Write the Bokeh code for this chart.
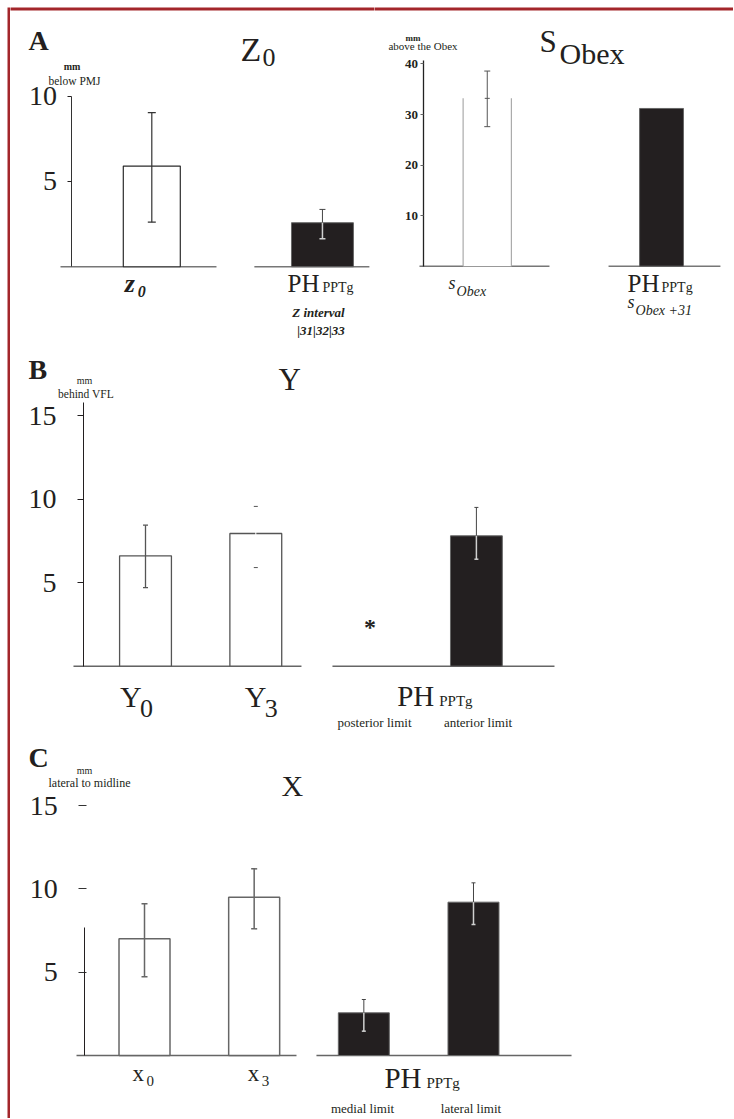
from bokeh.plotting import figure
from bokeh.models import (Range1d, LinearAxis, FixedTicker, Label, Whisker, TeeHead,
                          ColumnDataSource, BoxAnnotation)
from bokeh.layouts import column, row
from bokeh.embed import file_html
from bokeh.resources import INLINE

# ---------------- data ----------------
# Panel A, left: Z0 (mm below PMJ)
z_labels = [("z", "0"), ("PH", "PPTg")]
z_mean = [5.9, 2.58]
z_low = [2.61, 1.64]
z_high = [9.03, 3.36]
z_ticks = [5, 10]

# Panel A, right: S_Obex (mm above the Obex)
s_labels = [("s", "Obex"), ("PH", "PPTg")]
s_mean = [33.2, 31.2]
s_low = [27.6, None]
s_high = [38.6, None]
s_ticks = [10, 20, 30, 40]

# Panel B: Y (mm behind VFL)
y_labels = [("Y", "0"), ("Y", "3"), "posterior limit", "anterior limit"]
y_mean = [6.6, 7.94, None, 7.8]
y_low = [4.7, 5.9, None, 6.4]
y_high = [8.44, 9.56, None, 9.5]
y_ticks = [5, 10, 15]

# Panel C: X (mm lateral to midline)
x_labels = [("x", "0"), ("x", "3"), "medial limit", "lateral limit"]
x_mean = [7.0, 9.5, 2.56, 9.2]
x_low = [4.72, 7.6, 1.46, 7.86]
x_high = [9.1, 11.2, 3.36, 10.36]
x_ticks = [5, 10, 15]

FONT = "Liberation Serif"
INK = "#231f20"
BLACKBAR = "#231f20"
RED = "#a3262b"


def make_fig(w, h, xr, yr, bg="white"):
    p = figure(width=w, height=h, x_range=Range1d(*xr), y_range=Range1d(*yr),
               x_axis_type=None, y_axis_type=None, toolbar_location=None,
               output_backend="svg", outline_line_color=None,
               background_fill_color=bg, border_fill_color=bg)
    p.min_border_left = p.min_border_right = 0
    p.min_border_top = p.min_border_bottom = 0
    p.grid.visible = False
    return p


def add_axis(p, loc, bounds, ticks, size, bold, standoff, tout, tin=0,
             line_color=INK, tick_color=INK, line_width=1):
    ax = LinearAxis(fixed_location=loc, bounds=bounds,
                    ticker=FixedTicker(ticks=ticks, minor_ticks=[]))
    ax.major_label_text_font = FONT
    ax.major_label_text_font_size = f"{size}px"
    ax.major_label_text_font_style = "bold" if bold else "normal"
    ax.major_label_text_color = INK
    ax.major_label_standoff = standoff
    ax.major_tick_out = tout
    ax.major_tick_in = tin
    ax.major_tick_line_color = tick_color
    ax.minor_tick_line_color = None
    ax.axis_line_color = line_color
    ax.axis_line_width = line_width
    p.add_layout(ax, "left")
    return ax


def lab(p, text, x, y, size, style="normal", align="left", x_units="screen",
        x_offset=0, baseline="alphabetic", color=INK):
    # y is the wanted baseline, in px from the figure bottom
    yy = y + 0.36 * size if baseline == "alphabetic" else y
    p.add_layout(Label(x=x, y=yy, x_units=x_units, y_units="screen", text=text,
                       text_font=FONT, text_font_size=f"{size}px",
                       text_font_style=style, text_align=align,
                       text_baseline=baseline, x_offset=x_offset,
                       text_color=color))


def whisker(p, xs, lo, hi, color, width, size, head_color=None,
            upper_head=True, lower_head=True):
    if not xs:
        return
    hc = head_color or color
    src = ColumnDataSource(dict(x=xs, lo=lo, hi=hi))
    w = Whisker(source=src, base="x", lower="lo", upper="hi",
                line_color=color, line_width=width, level="overlay",
                upper_head=TeeHead(size=size, line_color=hc, line_width=width) if upper_head else None,
                lower_head=TeeHead(size=size, line_color=hc, line_width=width) if lower_head else None)
    p.add_layout(w)


def black_whisker(p, xs, means, lo, hi, size):
    # part above the bar top: dark, part inside the black bar: light
    whisker(p, xs, means, hi, "#444444", 1, size, lower_head=False)
    whisker(p, xs, lo, means, "#d0d0d0", 1.5, size, upper_head=False)


def top_rule(p, w, h):
    p.add_layout(BoxAnnotation(left=-3, right=w + 3, top=h + 2, bottom=h - 3,
                               left_units="screen", right_units="screen",
                               top_units="screen", bottom_units="screen",
                               fill_color=RED, fill_alpha=1, line_color=None))


# ---------------- Panel A, left (Z0) ----------------
pA1 = make_fig(364, 336, (-0.828, 1.305), (-4.5, 15.196))
pA1.segment(x0=[-0.535, 0.601], y0=[0, 0], x1=[0.379, 1.275], y1=[0, 0],
            line_color="#777777", line_width=1.5)
pA1.vbar(x=[0], top=[z_mean[0]], bottom=0, width=0.334, fill_color="white",
         line_color="#2b2b2b", line_width=1.2)
pA1.vbar(x=[1], top=[z_mean[1]], bottom=0, width=0.363, fill_color=BLACKBAR,
         line_color="#666666", line_width=1)
add_axis(pA1, -0.468, (0, 10), z_ticks, 28, False, 11, 4, line_color="#333333")
whisker(pA1, [0], [z_low[0]], [z_high[0]], "#333333", 1.2, 8)
black_whisker(pA1, [1], [z_mean[1]], [z_low[1]], [z_high[1]], 6)
top_rule(pA1, 364, 336)

lab(pA1, "A", 18, 293, 28, "bold")
lab(pA1, "Z", 230, 282, 34)
lab(pA1, "0", 252, 277, 26)
lab(pA1, "mm", 61.5, 273, 10, "bold", "center")
lab(pA1, "below PMJ", 64, 258, 11.5, "normal", "center")
lab(pA1, z_labels[0][0], 0, 51, 26, "bold italic", "left", "data", -27)
lab(pA1, z_labels[0][1], 0, 46, 16, "bold italic", "left", "data", -14)
lab(pA1, z_labels[1][0], 1, 51, 25, "normal", "right", "data", -3)
lab(pA1, z_labels[1][1], 1, 51, 14, "normal", "left", "data", 0)
lab(pA1, "Z interval", 1, 26, 13, "bold italic", "center", "data", -4)
lab(pA1, "|31|32|33", 1, 8, 13, "bold italic", "center", "data", -1.5)

# ---------------- Panel A, right (S_Obex) ----------------
pA2 = make_fig(359, 336, (-0.647, 1.413), (-15.29, 51.17))
pA2.segment(x0=[-0.389, 0.696], y0=[0, 0], x1=[0.357, 1.338], y1=[0, 0],
            line_color="#777777", line_width=1.5)
wS = 0.277
pA2.vbar(x=[0], top=[s_mean[0]], bottom=0, width=wS, fill_color="white",
         line_color=None)
pA2.segment(x0=[0 - wS / 2, 0 + wS / 2], y0=[0, 0],
            x1=[0 - wS / 2, 0 + wS / 2], y1=[s_mean[0], s_mean[0]],
            line_color="#aaaaaa", line_width=1.2)
pA2.vbar(x=[1], top=[s_mean[1]], bottom=0, width=0.252, fill_color=BLACKBAR,
         line_color="#666666", line_width=1)
add_axis(pA2, -0.368, (0, 40.6), s_ticks, 13, True, 2, 3,
         line_color="#222222", tick_color="#666666", line_width=1.3)
whisker(pA2, [0], [s_low[0]], [s_high[0]], "#555555", 1, 6)
pA2.scatter(x=[0], y=[s_mean[0]], marker="dash", size=5, line_color="#555555")
top_rule(pA2, 359, 336)

lab(pA2, "mm", 38.5, 302, 9, "bold", "center")
lab(pA2, "above the Obex", 48.5, 294, 11, "normal", "center")
lab(pA2, "S", 165, 291, 31)
lab(pA2, "Obex", 185, 279, 30)
lab(pA2, s_labels[0][0], 0, 54, 18, "italic", "left", "data", -38.7)
lab(pA2, s_labels[0][1], 0, 47, 14, "italic", "left", "data", -30.7)
lab(pA2, s_labels[1][0], 1, 51, 25, "normal", "right", "data", -2)
lab(pA2, s_labels[1][1], 1, 51, 14, "normal", "left", "data", 0)
lab(pA2, "s", 1, 35, 18, "italic", "left", "data", -34)
lab(pA2, "Obex +31", 1, 28, 14, "italic", "left", "data", -26)

# ---------------- Panel B (Y) ----------------
pB = make_fig(723, 394, (-1.224, 5.331), (-4.27, 19.31))
pB.segment(x0=[-0.653, 1.695], y0=[0, 0], x1=[1.414, 3.708], y1=[0, 0],
           line_color="#666666", line_width=1.5)
open_idx = [i for i in range(2) if y_mean[i] is not None]
fill_idx = [i for i in range(2, 4) if y_mean[i] is not None]
pB.vbar(x=open_idx, top=[y_mean[i] for i in open_idx], bottom=0, width=0.47,
        fill_color="white", line_color="#555555", line_width=1.3)
pB.vbar(x=fill_idx, top=[y_mean[i] for i in fill_idx], bottom=0, width=0.47,
        fill_color=BLACKBAR, line_color="#666666", line_width=1)
add_axis(pB, -0.562, (0, 15.8), y_ticks, 28, False, 21, 6)
whisker(pB, [0], [y_low[0]], [y_high[0]], "#555555", 1.3, 5)
whisker(pB, [1], [y_low[1]], [y_high[1]], "white", 1, 4, head_color="#555555")
black_whisker(pB, fill_idx, [y_mean[i] for i in fill_idx],
              [y_low[i] for i in fill_idx], [y_high[i] for i in fill_idx], 4)

lab(pB, "B", 18, 358, 28, "bold")
lab(pB, "mm", 74, 353, 10, "normal", "center")
lab(pB, "behind VFL", 75.5, 339, 11.5, "normal", "center")
lab(pB, "Y", 268, 347, 31)
lab(pB, y_labels[0][0], 0, 30, 30, "normal", "left", "data", -25.5)
lab(pB, y_labels[0][1], 0, 20, 26, "normal", "left", "data", -5.5)
lab(pB, y_labels[1][0], 1, 30, 30, "normal", "left", "data", -11)
lab(pB, y_labels[1][1], 1, 20, 26, "normal", "left", "data", 9)
lab(pB, "PH", 2.5, 31, 29, "normal", "right", "data", 13)
lab(pB, "PPTg", 2.5, 31, 15, "normal", "left", "data", 18)
lab(pB, "*", 2, 111, 24, "bold", "center", "data", 4, baseline="middle")
lab(pB, y_labels[2], 2, 10.5, 13, "normal", "center", "data", 8.4)
lab(pB, y_labels[3], 3, 10.5, 13, "normal", "center", "data", 1.6)

# ---------------- Panel C (X) ----------------
pC = make_fig(723, 381, (-1.222, 5.371), (-3.78, 19.08))
pC.segment(x0=[-0.62, 1.568], y0=[0, 0], x1=[1.386, 3.894], y1=[0, 0],
           line_color="#666666", line_width=1.5)
pC.vbar(x=[0, 1], top=x_mean[:2], bottom=0, width=0.465,
        fill_color="white", line_color="#666666", line_width=1.5)
pC.vbar(x=[2, 3], top=x_mean[2:], bottom=0, width=0.465,
        fill_color=BLACKBAR, line_color="#666666", line_width=1)
add_axis(pC, -0.544, (0, 15), x_ticks, 28, False, 21, 6, tin=2,
         line_color=None, tick_color="#333333")
add_axis(pC, -0.544, (0, 7.7), [], 10, False, 0, 0, line_color=INK)
whisker(pC, [0, 1], x_low[:2], x_high[:2], "#666666", 1.5, 6)
black_whisker(pC, [2, 3], x_mean[2:], x_low[2:], x_high[2:], 4)

lab(pC, "C", 18, 351, 28, "bold")
lab(pC, "mm", 74, 344, 10, "normal", "center")
lab(pC, "lateral to midline", 79, 331, 12, "normal", "center")
lab(pC, "X", 271, 322, 30)
lab(pC, x_labels[0][0], 0, 37, 23, "normal", "left", "data", -12)
lab(pC, x_labels[0][1], 0, 32, 15, "normal", "left", "data", 2)
lab(pC, x_labels[1][0], 1, 37, 23, "normal", "left", "data", -6.3)
lab(pC, x_labels[1][1], 1, 32, 15, "normal", "left", "data", 7.7)
lab(pC, "PH", 2.5, 30, 29, "normal", "right", "data", 2.8)
lab(pC, "PPTg", 2.5, 30, 15, "normal", "left", "data", 7.8)
lab(pC, x_labels[2], 2, 5, 13, "normal", "center", "data", -1.3)
lab(pC, x_labels[3], 3, 5, 13, "normal", "center", "data", -2.5)

# ---------------- frame: red rule on the left ----------------
left_rule = make_fig(3, 1111, (0, 1), (0, 1), bg=RED)

inner = column(row(pA1, pA2), pB, pC)
layout = row(left_rule, inner,
             styles={"margin-left": "7px", "margin-top": "7px"})

open("out.html", "w").write(file_html(layout, INLINE, title="Bar charts"))
